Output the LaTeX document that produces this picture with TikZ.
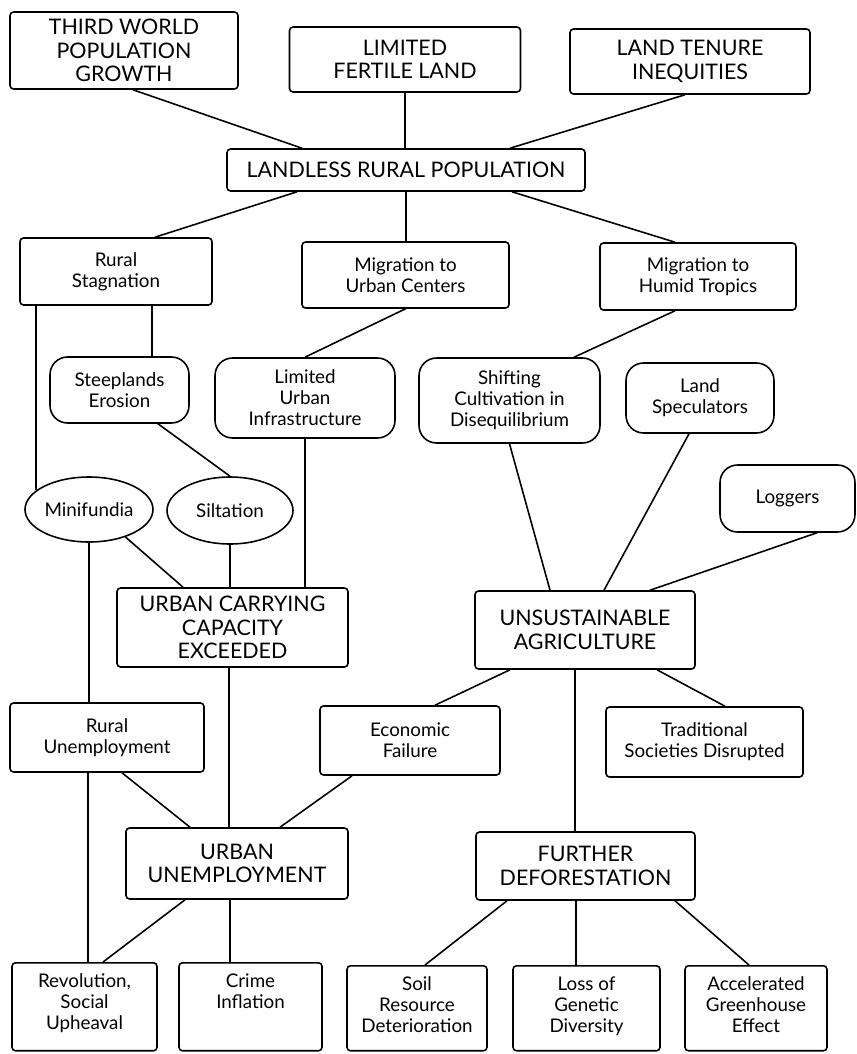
\documentclass[tikz,border=0pt]{standalone}
\usepackage{fontspec}
\setmainfont{Lato}
\usetikzlibrary{shapes.geometric}

\newcommand\bigtxt{\fontsize{12.2}{13.4}\selectfont}
\newcommand\smalltxt{\fontsize{10.7}{12}\selectfont}
\newcommand\outtext[3]{\parbox[t][#2][t]{#1}{\centering\vspace*{6pt}#3}}

\tikzset{
  capsbox/.style={draw, rounded corners=2pt, align=center, inner sep=1pt, font=\bigtxt},
  smallbox/.style={draw, rounded corners=2pt, align=center, inner sep=1pt, font=\smalltxt},
  softbox/.style={draw, rounded corners=0.35cm, align=center, inner sep=1pt, font=\smalltxt},
  ovalbox/.style={draw, ellipse, inner sep=0pt, font=\smalltxt},
  endbox/.style={draw, rounded corners=2pt, anchor=north, inner sep=0pt, font=\smalltxt},
}

\begin{document}
\begin{tikzpicture}[x=0.02cm, y=-0.02cm, line width=0.9pt]
\useasboundingbox (0,0) rectangle (857,1054);

% causes
\node[capsbox, minimum width=4.56cm, minimum height=1.54cm] (third) at (124,50.5) {THIRD WORLD\\ POPULATION\\ GROWTH};
\node[capsbox, minimum width=4.62cm, minimum height=1.30cm] (fertile) at (405,59.5) {LIMITED\\ FERTILE LAND};
\node[capsbox, minimum width=4.80cm, minimum height=1.30cm] (tenure) at (690,61.5) {LAND TENURE\\ INEQUITIES};
\node[capsbox, minimum width=7.16cm, minimum height=0.84cm] (landless) at (406,170) {LANDLESS RURAL POPULATION};

\node[smallbox, minimum width=3.84cm, minimum height=1.34cm] (stagnation) at (116,271.5) {Rural\\ Stagnation};
\node[smallbox, minimum width=4.14cm, minimum height=1.32cm] (migurban) at (405.5,275) {Migration to\\ Urban Centers};
\node[smallbox, minimum width=3.92cm, minimum height=1.34cm] (migtropics) at (698,276.5) {Migration to\\ Humid Tropics};

\node[softbox, minimum width=2.78cm, minimum height=1.32cm] (steep) at (119.5,390) {Steeplands\\ Erosion};
\node[softbox, minimum width=3.60cm, minimum height=1.60cm] (infra) at (305,398) {Limited\\ Urban\\ Infrastructure};
\node[softbox, minimum width=3.62cm, minimum height=1.70cm] (shifting) at (509.5,400.5) {Shifting\\ Cultivation in\\ Disequilibrium};
\node[softbox, minimum width=2.96cm, minimum height=1.40cm] (specul) at (700,398) {Land\\ Speculators};
\node[softbox, minimum width=2.70cm, minimum height=1.34cm] (loggers) at (787.5,498.5) {Loggers};

\node[ovalbox, minimum width=2.56cm, minimum height=1.30cm] (minif) at (89,509.5) {Minifundia};
\node[ovalbox, minimum width=2.52cm, minimum height=1.34cm] (silt) at (230,510.5) {Siltation};

% effects
\node[capsbox, minimum width=4.62cm, minimum height=1.58cm] (carrying) at (232.5,627.5) {URBAN CARRYING\\ CAPACITY\\ EXCEEDED};
\node[capsbox, minimum width=4.40cm, minimum height=1.56cm] (unsust) at (585,630) {UNSUSTAINABLE\\ AGRICULTURE};

\node[smallbox, minimum width=3.88cm, minimum height=1.38cm] (ruralunemp) at (107,737.5) {Rural\\ Unemployment};
\node[smallbox, minimum width=3.60cm, minimum height=1.38cm] (econ) at (410,740.5) {Economic\\ Failure};
\node[smallbox, minimum width=3.94cm, minimum height=1.40cm] (tradsoc) at (704.5,742) {Traditional\\ Societies Disrupted};

\node[capsbox, minimum width=4.44cm, minimum height=1.42cm] (urbanunemp) at (237,863.5) {URBAN\\ UNEMPLOYMENT};
\node[capsbox, minimum width=4.38cm, minimum height=1.36cm] (furtherdef) at (585.5,866) {FURTHER\\ DEFORESTATION};

\node[endbox] (revol) at (84.5,962) {\outtext{2.90cm}{1.76cm}{Revolution,\\ Social\\ Upheaval}};
\node[endbox] (crime) at (250.5,962) {\outtext{2.86cm}{1.76cm}{Crime\\ Inflation}};
\node[endbox] (soil) at (417,965) {\outtext{2.80cm}{1.70cm}{Soil\\ Resource\\ Deterioration}};
\node[endbox] (genetic) at (586.5,965) {\outtext{2.94cm}{1.70cm}{Loss of\\ Genetic\\ Diversity}};
\node[endbox] (greenh) at (756,965) {\outtext{2.84cm}{1.70cm}{Accelerated\\ Greenhouse\\ Effect}};

% links
\draw ([xshift=0.18cm]third.south) -- ([xshift=-2.08cm]landless.north);
\draw (fertile.south) -- (fertile.south |- landless.north);
\draw ([xshift=-0.1cm]tenure.south) -- ([xshift=2.08cm]landless.north);

\draw ([xshift=-2.18cm]landless.south) -- ([xshift=0.78cm]stagnation.north);
\draw (landless.south) -- (landless.south |- migurban.north);
\draw ([xshift=2.12cm]landless.south) -- ([xshift=-0.46cm]migtropics.north);

\draw (minif.160 |- stagnation.south) -- (minif.160);
\draw ([xshift=0.72cm]stagnation.south) -- ([xshift=0.72cm]stagnation.south |- steep.north);
\draw (migurban.south) -- (infra.north);
\draw ([xshift=0.77cm]steep.south) -- (silt.north);
\draw (infra.south) -- (infra.south |- carrying.north);

\draw ([xshift=-0.46cm]migtropics.south) -- ([xshift=1.29cm]shifting.north);
\draw (shifting.south) -- ([xshift=-0.7cm]unsust.north);
\draw ([xshift=-0.22cm]specul.south) -- ([xshift=0.38cm]unsust.north);
\draw ([xshift=0.59cm]loggers.south) -- ([xshift=1.3cm]unsust.north);

\draw (minif.south) -- (minif.south |- ruralunemp.north);
\draw (minif.323) -- ([xshift=-0.99cm]carrying.north);
\draw (silt.south) -- (silt.south |- carrying.north);
\draw ([xshift=-0.07cm]carrying.south) -- ([xshift=-0.07cm]carrying.south |- urbanunemp.north);

\draw ([xshift=-1.5cm]unsust.south) -- ([xshift=0.5cm]econ.north);
\draw ([xshift=1.44cm]unsust.south) -- ([xshift=0.41cm]tradsoc.north);
\draw ([xshift=-0.2cm]unsust.south) -- ([xshift=-0.2cm]unsust.south |- furtherdef.north);

\draw ([xshift=-0.38cm]ruralunemp.south) -- ([xshift=-0.38cm]ruralunemp.south |- revol.north);
\draw ([xshift=0.3cm]ruralunemp.south) -- ([xshift=-0.94cm]urbanunemp.north);
\draw ([xshift=-1.16cm]econ.south) -- ([xshift=0.86cm]urbanunemp.north);

\draw ([xshift=-1.04cm]urbanunemp.south) -- ([xshift=0.37cm]revol.north);
\draw ([xshift=-0.14cm]urbanunemp.south) -- ([xshift=-0.14cm]urbanunemp.south |- crime.north);

\draw ([xshift=-1.57cm]furtherdef.south) -- ([xshift=0.16cm]soil.north);
\draw ([xshift=-0.19cm]furtherdef.south) -- ([xshift=-0.19cm]furtherdef.south |- genetic.north);
\draw ([xshift=1.79cm]furtherdef.south) -- ([xshift=-0.14cm]greenh.north);

\end{tikzpicture}
\end{document}
